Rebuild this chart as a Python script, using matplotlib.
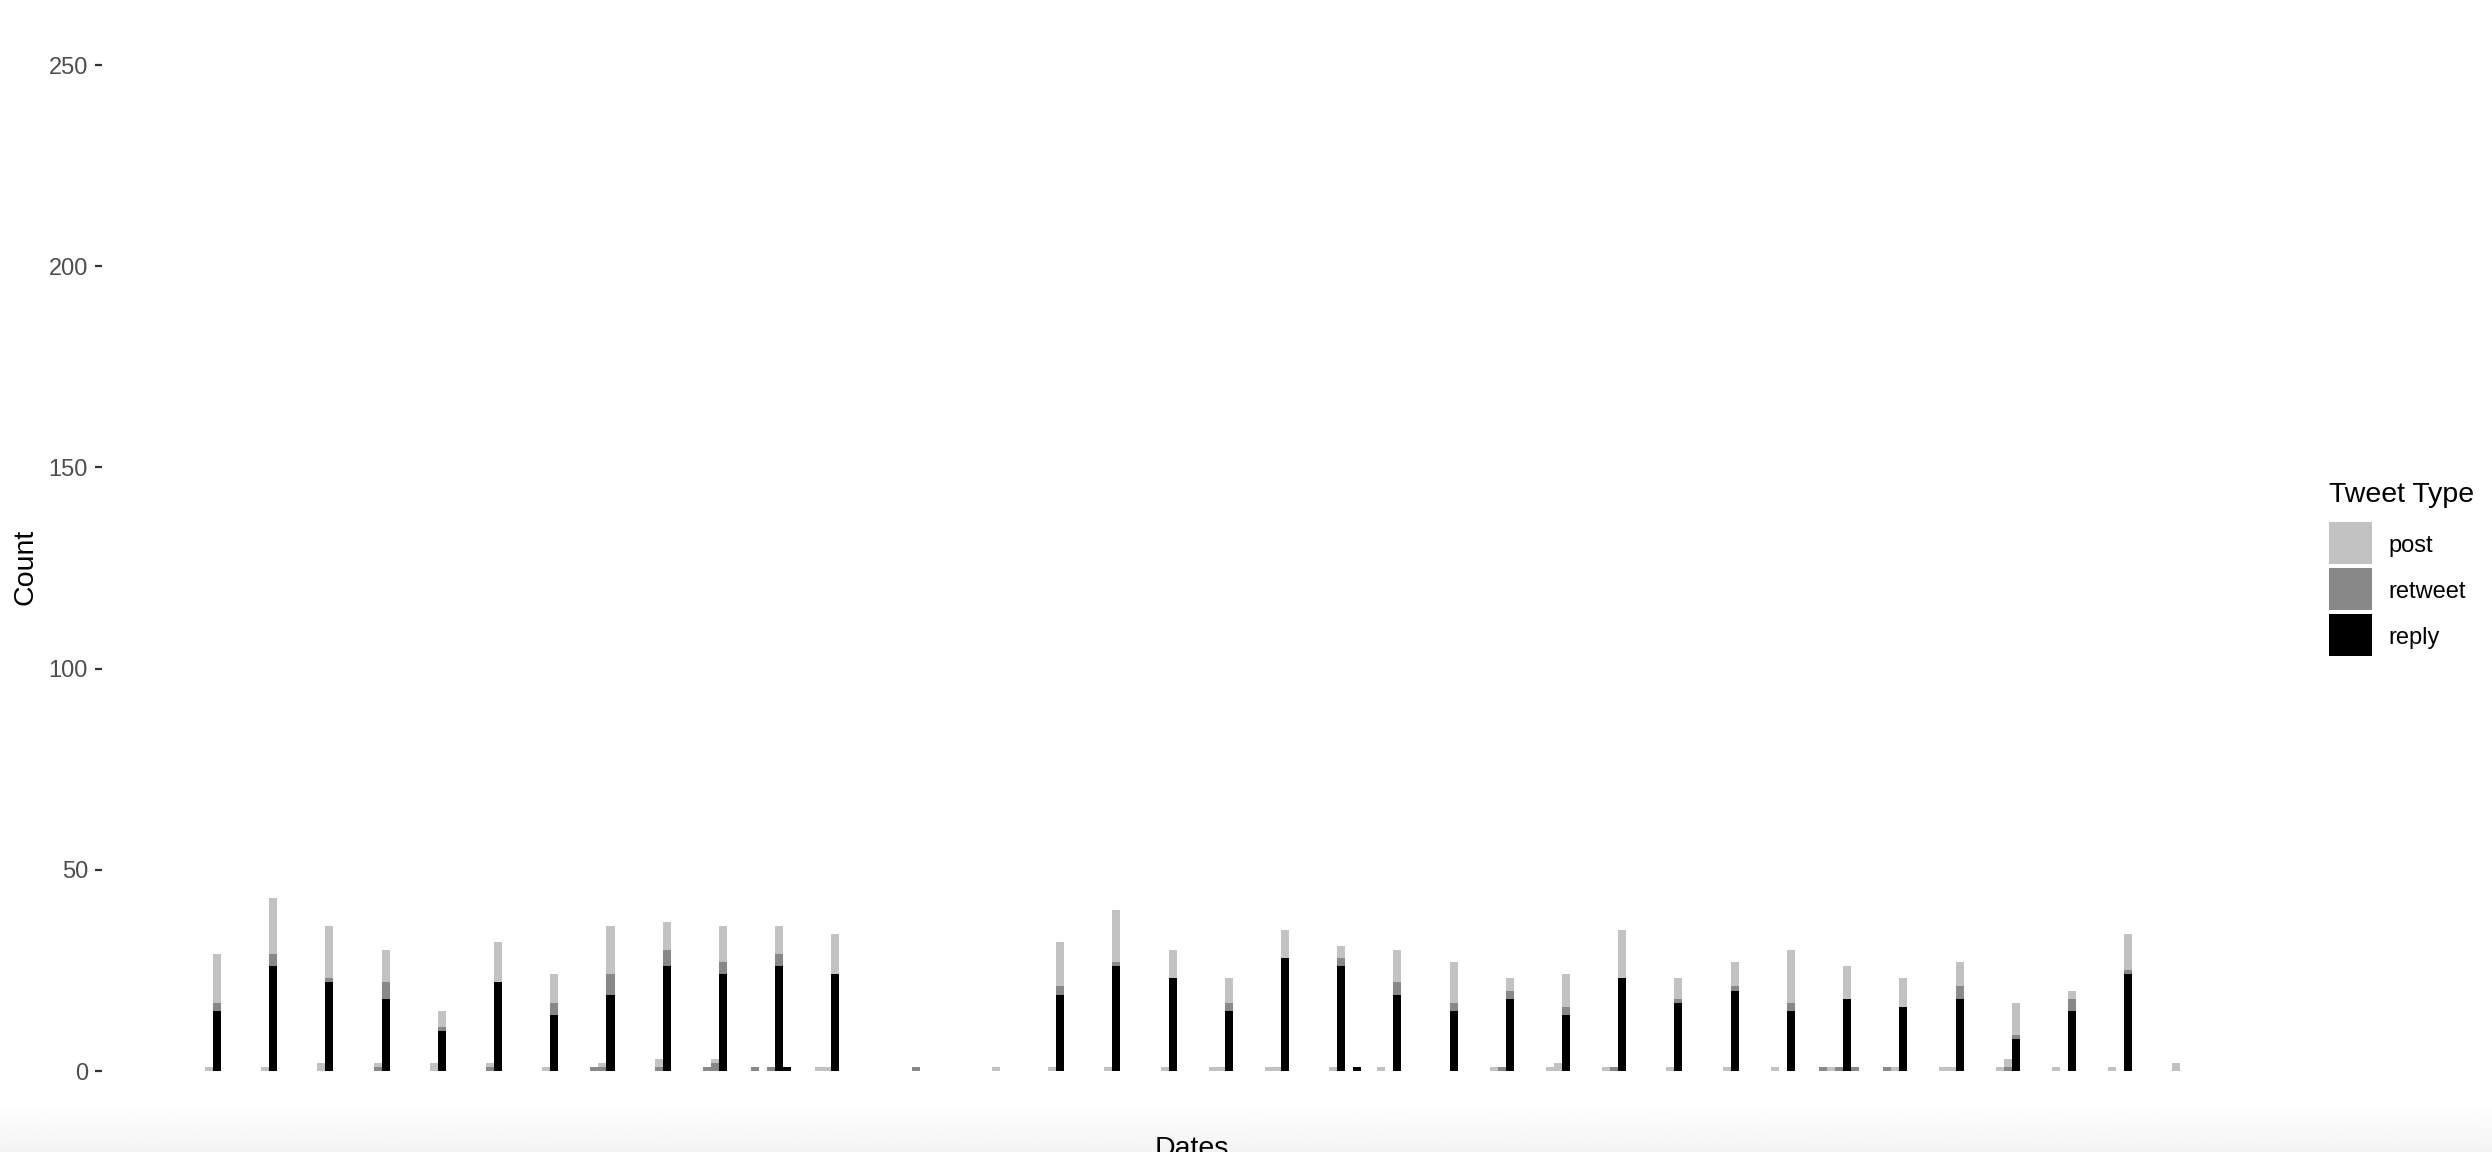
import numpy as np
import matplotlib.pyplot as plt
from matplotlib.patches import Rectangle

plt.rcParams['font.family'] = ['Liberation Sans', 'DejaVu Sans']

# time slots (7 slots per day) and tweet counts per slot
slots = [-1, 0, 6, 7, 13, 14, 20, 21, 27, 28,
         34, 35, 41, 42, 47, 48, 49, 55, 56, 61,
         62, 63, 67, 69, 70, 71, 75, 76, 77, 87,
         97, 104, 105, 111, 112, 118, 119, 124, 125, 126,
         131, 132, 133, 139, 140, 142, 145, 147, 154, 159,
         160, 161, 166, 167, 168, 173, 174, 175, 181, 182,
         188, 189, 194, 196, 200, 201, 202, 203, 204, 208,
         209, 210, 215, 216, 217, 222, 223, 224, 229, 231,
         236, 238, 244]

reply = [0, 15, 0, 26, 0, 22, 0, 18, 0, 10,
         0, 22, 0, 14, 0, 0, 19, 0, 26, 0,
         0, 24, 0, 0, 26, 1, 0, 0, 24, 0,
         0, 0, 19, 0, 26, 0, 23, 0, 0, 15,
         0, 0, 28, 0, 26, 1, 0, 19, 15, 0,
         0, 18, 0, 0, 14, 0, 0, 23, 0, 17,
         0, 20, 0, 15, 0, 0, 0, 18, 0, 0,
         0, 16, 0, 0, 18, 0, 0, 8, 0, 15,
         0, 24, 0]

retweet = [0, 2, 0, 3, 0, 1, 1, 4, 0, 1,
           1, 0, 0, 3, 1, 1, 5, 1, 4, 1,
           2, 3, 1, 1, 3, 0, 0, 0, 0, 1,
           0, 0, 2, 0, 1, 0, 0, 0, 0, 2,
           0, 0, 0, 0, 2, 0, 0, 3, 2, 0,
           1, 2, 0, 0, 2, 0, 1, 0, 0, 1,
           0, 1, 0, 2, 1, 0, 1, 0, 1, 1,
           0, 0, 0, 0, 3, 0, 1, 1, 0, 3,
           0, 1, 0]

post = [1, 12, 1, 14, 2, 13, 1, 8, 2, 4,
        1, 10, 1, 7, 0, 1, 12, 2, 7, 0,
        1, 9, 0, 0, 7, 0, 1, 1, 10, 0,
        1, 1, 11, 1, 13, 1, 7, 1, 1, 6,
        1, 1, 7, 1, 3, 0, 1, 8, 10, 1,
        0, 3, 1, 2, 8, 1, 0, 12, 1, 5,
        1, 6, 1, 13, 0, 1, 0, 8, 0, 0,
        1, 7, 1, 1, 6, 1, 2, 8, 1, 2,
        1, 9, 2]

types = ['post', 'retweet', 'reply']
colors = {'post': '#C2C2C2', 'retweet': '#888888', 'reply': '#000000'}
y_ticks = [0, 50, 100, 150, 200, 250]

W, H = 2492, 1152
fig = plt.figure(figsize=(W / 100, H / 100), dpi=100)

# faint shadow along the bottom edge of the screenshot
bg = fig.add_axes([0, 0, 1, 50 / H], zorder=-5)
grad = np.linspace(0.955, 1.0, 64).reshape(-1, 1)
bg.imshow(grad, aspect='auto', cmap='gray', vmin=0, vmax=1,
          extent=[0, 1, 0, 1], origin='lower')
bg.axis('off')

# panel in pixel coordinates
left, right, top, bottom = 102, 2283, 14.7, 1121.3
ax = fig.add_axes([left / W, (H - bottom) / H, (right - left) / W, (bottom - top) / H])
ax.set_facecolor('none')

reply_a = np.array(reply)
retweet_a = np.array(retweet)
post_a = np.array(post)
ax.bar(slots, reply_a, width=1, align='edge', color=colors['reply'], linewidth=0)
ax.bar(slots, retweet_a, width=1, align='edge', bottom=reply_a,
       color=colors['retweet'], linewidth=0)
ax.bar(slots, post_a, width=1, align='edge', bottom=reply_a + retweet_a,
       color=colors['post'], linewidth=0)

px = 8.03  # pixels per slot
ax.set_xlim((left - 213) / px, (right - 213) / px)
ax.set_ylim(-12.5, 262.5)
ax.set_xticks([])
ax.set_yticks(y_ticks)
ax.tick_params(axis='y', length=5, width=1.6, color='#333333', pad=5,
               labelsize=17, labelcolor='#4D4D4D')
for s in ax.spines.values():
    s.set_visible(False)

fig.text(25 / W, 1 - 567 / H, 'Count', rotation=90, ha='center', va='center',
         fontsize=20.5)
fig.text(1192 / W, (H - 1156) / H, 'Dates', ha='center', va='baseline',
         fontsize=20.5)

# legend drawn like ggplot's guide
fig.text(2329 / W, 1 - 502 / H, 'Tweet Type', ha='left', va='baseline', fontsize=20.5)
for i, t in enumerate(types):
    y0 = 522 + i * 46
    fig.add_artist(Rectangle((2329 / W, 1 - (y0 + 42) / H), 43 / W, 42 / H,
                             transform=fig.transFigure, facecolor=colors[t],
                             linewidth=0))
    fig.text(2388 / W, 1 - (y0 + 24) / H, t, ha='left', va='center', fontsize=17)

fig.savefig('out.png', dpi=100)
